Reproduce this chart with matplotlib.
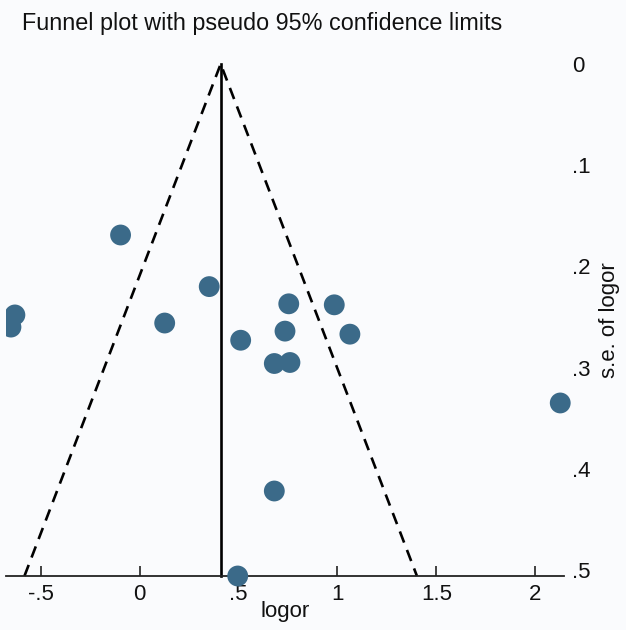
import numpy as np
import matplotlib
matplotlib.use("Agg")
import matplotlib.pyplot as plt
from matplotlib.transforms import Bbox, TransformedBbox

# Data
logor = [-0.096, 0.352, -0.630, -0.650, 0.127, 0.754, 0.984, 0.735, 1.063,
         0.511, 0.681, 0.760, 2.126, 0.681, 0.496]
se_logor = [0.169, 0.220, 0.248, 0.260, 0.256, 0.237, 0.238, 0.264, 0.267,
            0.273, 0.296, 0.295, 0.335, 0.422, 0.506]
pooled = 0.41
x_ticks = [-0.5, 0, 0.5, 1, 1.5, 2]
x_ticklabels = ["-.5", "0", ".5", "1", "1.5", "2"]
y_ticks = [0, 0.1, 0.2, 0.3, 0.4, 0.5]
y_ticklabels = ["0", ".1", ".2", ".3", ".4", ".5"]
title = "Funnel plot with pseudo 95% confidence limits"

plt.rcParams['font.family'] = ['Liberation Sans', 'DejaVu Sans']
bg = '#fafbfd'
fig = plt.figure(figsize=(6.26, 6.30), dpi=100, facecolor=bg)
W, H = 626, 630
left_px, right_px, top_px, bot_px = 6, 564, 64, 576
ax = fig.add_axes([left_px / W, 1 - bot_px / H, (right_px - left_px) / W, (bot_px - top_px) / H])
ax.set_facecolor(bg)

se_max = max(se_logor)
ax.set_xlim(-0.675, 2.145)
ax.set_ylim(se_max, 0)

# funnel lines
ax.plot([pooled - 1.96 * se_max, pooled, pooled + 1.96 * se_max], [se_max, 0, se_max],
        color='black', lw=1.9, ls=(0, (4.5, 3)), clip_on=False, zorder=2)
ax.plot([pooled, pooled], [0, se_max], color='black', lw=1.9, clip_on=False, zorder=2)

sc = ax.scatter(logor, se_logor, s=225, color='#3b6a89', edgecolors='none', zorder=3, clip_on=True)
clip = TransformedBbox(Bbox([[left_px / W, 0], [1, 1]]), fig.transFigure)
sc.set_clip_box(clip)

for s in ['top', 'left', 'right']:
    ax.spines[s].set_visible(False)
ax.spines['bottom'].set_linewidth(1.3)
ax.spines['bottom'].set_color('#222222')

ax.set_xticks(x_ticks)
ax.set_xticklabels(x_ticklabels, fontsize=16, color='#111111')
ax.tick_params(axis='x', direction='in', length=7, width=1.2, pad=6, color='#222222')

ax.yaxis.tick_right()
ax.set_yticks(y_ticks)
ax.set_yticklabels(y_ticklabels, fontsize=16, color='#111111')
ax.tick_params(axis='y', length=0, pad=6)
for lab in ax.get_yticklabels():
    lab.set_horizontalalignment('left')

ax.set_xlabel("logor", fontsize=16, labelpad=-3, color='#111111')
ax.yaxis.set_label_position('right')
ax.set_ylabel("s.e. of logor", fontsize=16, labelpad=6, color='#111111')

fig.text(22 / W, 1 - 30 / H, title, fontsize=16.8, color='#111111', ha='left', va='baseline')

fig.savefig("out.png", dpi=100, facecolor=bg)
